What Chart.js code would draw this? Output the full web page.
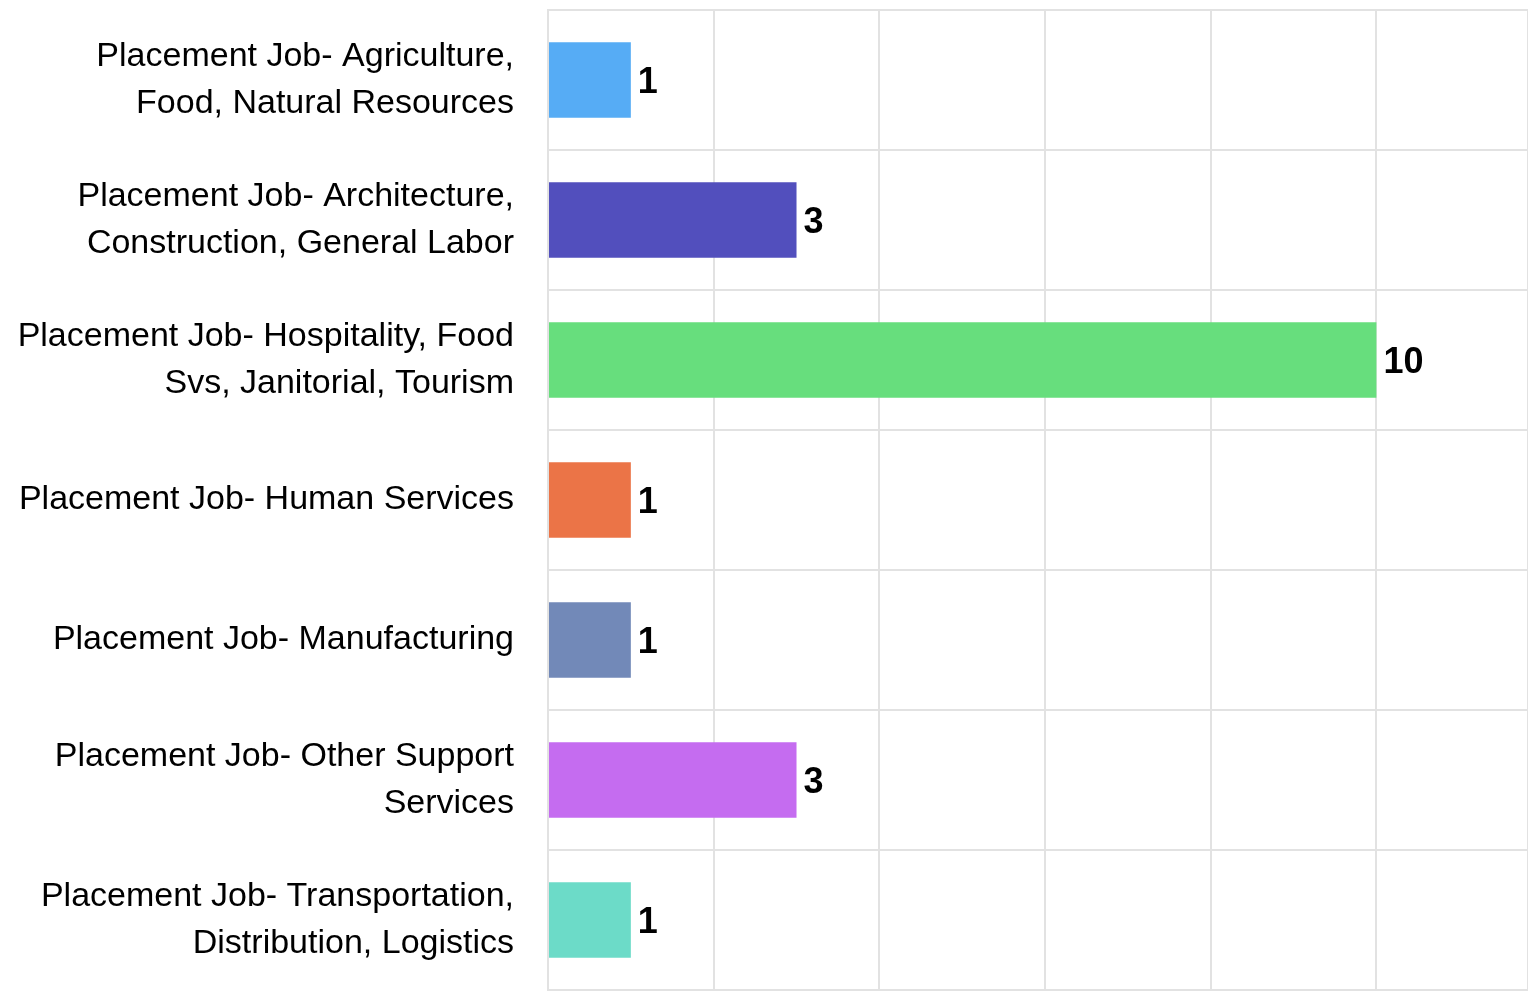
<!DOCTYPE html>
<html>
<head>
<meta charset="utf-8">
<script src="https://cdn.jsdelivr.net/npm/chart.js@4"></script>
<style>
  html, body { margin: 0; padding: 0; background: #fff; }
  #wrap { width: 1528px; height: 994px; }
</style>
</head>
<body>
<div id="wrap"><canvas id="jobChart"></canvas></div>
<script>
const categories = [
  ['Placement Job- Agriculture,', 'Food, Natural Resources'],
  ['Placement Job- Architecture,', 'Construction, General Labor'],
  ['Placement Job- Hospitality, Food', 'Svs, Janitorial, Tourism'],
  'Placement Job- Human Services',
  'Placement Job- Manufacturing',
  ['Placement Job- Other Support', 'Services'],
  ['Placement Job- Transportation,', 'Distribution, Logistics']
];
const counts = [1, 3, 10, 1, 1, 3, 1];
const barColors = ['#56acf5', '#524fbd', '#67de7d', '#eb7447', '#7289b8', '#c56cf0', '#6cdbc8'];

const FONT = "'Liberation Sans', Arial, sans-serif";

// value labels at the end of each bar
const valueLabels = {
  id: 'valueLabels',
  afterDatasetsDraw(chart) {
    const ctx = chart.ctx;
    const meta = chart.getDatasetMeta(0);
    ctx.save();
    ctx.font = 'bold 36px ' + FONT;
    ctx.fillStyle = '#000';
    ctx.textAlign = 'left';
    ctx.textBaseline = 'middle';
    meta.data.forEach((bar, i) => {
      ctx.fillText(String(counts[i]), bar.x + 7, bar.y + 3);
    });
    ctx.restore();
  }
};

new Chart(document.getElementById('jobChart'), {
  type: 'bar',
  data: {
    labels: categories,
    datasets: [{
      data: counts,
      backgroundColor: barColors,
      borderWidth: 0,
      barPercentage: 0.54,
      categoryPercentage: 1
    }]
  },
  options: {
    indexAxis: 'y',
    responsive: true,
    maintainAspectRatio: false,
    animation: false,
    layout: { padding: { top: 10, bottom: 4, right: 0 } },
    plugins: { legend: { display: false }, tooltip: { enabled: false } },
    scales: {
      x: {
        min: 0,
        max: 11.83,
        ticks: { display: false, stepSize: 2 },
        grid: { color: '#e2e2e2', lineWidth: 2, drawTicks: false },
        border: { display: false }
      },
      y: {
        afterFit: s => { s.width = 548; s.paddingTop = 0; s.paddingBottom = 0; },
        ticks: {
          color: '#000',
          font: { family: FONT, size: 34, lineHeight: 1.38 },
          padding: 34,
          crossAlign: 'near'
        },
        grid: { color: '#e2e2e2', lineWidth: 2, drawTicks: false },
        border: { color: '#e2e2e2', width: 2 }
      }
    }
  },
  plugins: [valueLabels]
});
</script>
</body>
</html>
